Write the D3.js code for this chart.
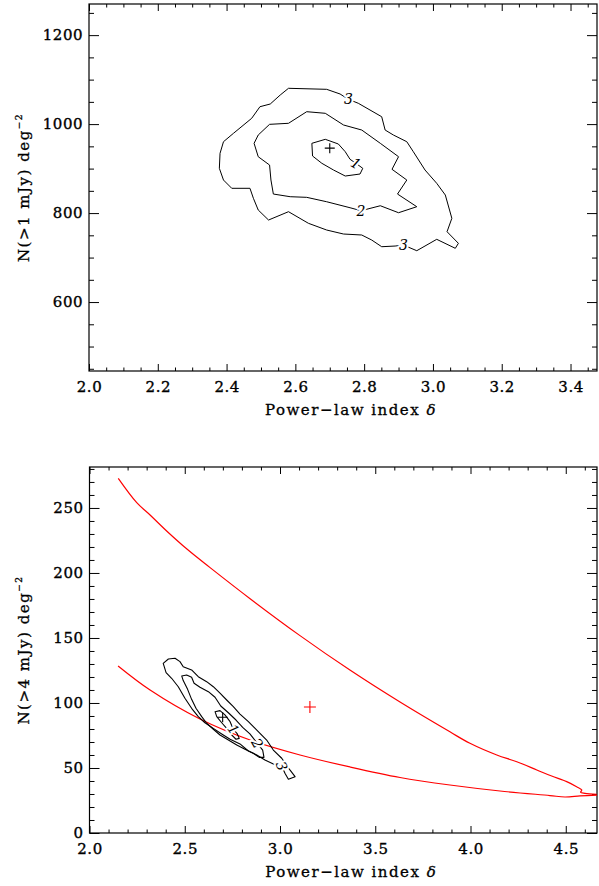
<!DOCTYPE html>
<html>
<head>
<meta charset="utf-8">
<script src="https://cdn.jsdelivr.net/npm/d3@7"></script>
<style>
  body { margin: 0; background: #fff; }
  svg { display: block; }
  .tick text { font-family: "DejaVu Serif", serif; font-size: 15px; fill: #000; stroke: #000; stroke-width: 0.35px; letter-spacing: 0.5px; }
  .axis-title { font-family: "DejaVu Serif", serif; font-size: 15px; fill: #000; stroke: #000; stroke-width: 0.3px; letter-spacing: 1.5px; }
  .clabel { font-family: "DejaVu Serif", serif; font-size: 14px; font-style: italic; paint-order: stroke; stroke: #fff; stroke-width: 4px; stroke-linejoin: round; }
</style>
</head>
<body>
<svg id="chart" width="599" height="886"></svg>
<script>
// ---------- Panel 1: N(>1 mJy) versus power-law index ----------
const topXTicks = [2.0, 2.2, 2.4, 2.6, 2.8, 3.0, 3.2, 3.4];
const topYTicks = [600, 800, 1000, 1200];

// confidence contours, [delta, N] pairs
const topContour1 = [
  [2.648, 956.8], [2.687, 965.8], [2.725, 955.3], [2.745, 937.9], [2.759, 920.9],
  [2.776, 911.9], [2.796, 900.6], [2.788, 887.8], [2.745, 883.3], [2.711, 896.8],
  [2.677, 911.9], [2.650, 928.3]
];
const topContour2 = [
  [2.793, 986.7], [2.847, 956.8], [2.900, 926.7], [2.881, 898.4], [2.924, 874.3],
  [2.897, 842.8], [2.953, 814.3], [2.900, 800.8], [2.847, 816.5], [2.791, 805.3],
  [2.759, 812.0], [2.691, 825.5], [2.633, 835.4], [2.585, 836.8], [2.536, 842.8],
  [2.529, 874.3], [2.525, 908.0], [2.492, 926.7], [2.480, 956.8], [2.492, 975.5],
  [2.525, 999.5], [2.580, 1001.8], [2.633, 1027.9], [2.687, 1024.3], [2.740, 998.0]
];
const topContour3 = [
  [2.754, 1055.8], [2.783, 1046.8], [2.851, 1016.6], [2.861, 986.7], [2.885, 975.5],
  [2.924, 960.4], [2.943, 937.9], [2.977, 896.8], [3.011, 866.9], [3.036, 840.6],
  [3.055, 788.2], [3.041, 758.1], [3.074, 732.0], [3.065, 720.8], [3.011, 741.0],
  [2.953, 715.4], [2.914, 728.2], [2.890, 725.9], [2.851, 724.4], [2.822, 739.4],
  [2.793, 750.7], [2.740, 752.9], [2.691, 761.9], [2.638, 777.0], [2.580, 803.1],
  [2.522, 784.4], [2.492, 806.9], [2.478, 833.2], [2.468, 855.7], [2.415, 855.7],
  [2.391, 874.3], [2.379, 900.6], [2.381, 934.3], [2.391, 960.4], [2.420, 979.3],
  [2.473, 1013.0], [2.497, 1039.1], [2.527, 1045.2], [2.556, 1065.4], [2.580, 1080.5],
  [2.691, 1078.2], [2.730, 1067.7]
];
const topBest = [2.70, 946];
// contour level labels: [delta, N, level]
const topLabels = [
  [2.776, 911.9, "1"], [2.791, 805.3, "2"], [2.754, 1055.8, "3"], [2.914, 728.2, "3"]
];

// ---------- Panel 2: N(>4 mJy) versus power-law index ----------
const botXTicks = [2.0, 2.5, 3.0, 3.5, 4.0, 4.5];
const botYTicks = [0, 50, 100, 150, 200, 250];

const botContour1 = [
  [2.659, 93.3], [2.685, 94.1], [2.711, 90.8], [2.738, 85.6], [2.755, 79.8],
  [2.776, 76.2], [2.786, 72.8], [2.769, 72.1], [2.746, 75.4], [2.720, 80.5],
  [2.694, 84.8], [2.668, 89.5]
];
const botContour2 = [
  [2.484, 120.8], [2.510, 121.5], [2.536, 119.8], [2.549, 115.2], [2.580, 112.1],
  [2.624, 108.7], [2.659, 104.4], [2.689, 97.7], [2.729, 92.5], [2.769, 86.9],
  [2.804, 81.3], [2.842, 76.2], [2.881, 69.0], [2.909, 63.8], [2.916, 58.2],
  [2.891, 58.2], [2.860, 61.3], [2.816, 64.4], [2.773, 67.7], [2.729, 71.5],
  [2.685, 75.4], [2.650, 79.8], [2.615, 84.4], [2.589, 89.5], [2.559, 95.9],
  [2.536, 102.8], [2.515, 110.5], [2.492, 117.2]
];
const botContour3 = [
  [2.387, 130.5], [2.414, 133.8], [2.449, 134.4], [2.475, 131.8], [2.492, 127.9],
  [2.536, 125.4], [2.571, 120.2], [2.615, 116.4], [2.650, 112.5], [2.685, 107.5],
  [2.720, 102.3], [2.755, 97.2], [2.790, 91.5], [2.834, 85.6], [2.860, 81.8],
  [2.895, 76.7], [2.930, 71.5], [2.965, 63.8], [3.009, 57.5], [3.052, 48.5],
  [3.079, 43.3], [3.044, 41.3], [3.026, 45.9], [3.009, 51.5], [2.965, 53.1],
  [2.921, 56.2], [2.878, 60.0], [2.834, 63.1], [2.790, 68.5], [2.738, 72.1],
  [2.694, 76.2], [2.650, 80.5], [2.606, 84.8], [2.571, 89.5], [2.536, 95.9],
  [2.501, 103.6], [2.466, 112.5], [2.431, 119.0], [2.402, 123.3]
];
const botBest = [2.699, 89];
const botLabels = [
  [2.755, 79.8, "1"], [2.881, 69.0, "2"], [3.009, 51.5, "3"]
];

// red model envelope: upper and lower branches
const redUpper = [
  [2.151, 272.8], [2.248, 254.1], [2.318, 244.6], [2.405, 232.3], [2.513, 218.2],
  [2.633, 204.1], [2.843, 180.2], [3.105, 151.8], [3.367, 125.3], [3.630, 100.7],
  [3.892, 77.8], [3.997, 69.0], [4.138, 60.0], [4.243, 54.8], [4.348, 48.5],
  [4.426, 43.8], [4.505, 39.5], [4.557, 35.6], [4.584, 33.1], [4.578, 31.3],
  [4.601, 30.5], [4.662, 29.8]
];
const redLower = [
  [2.150, 128.5], [2.318, 110.0], [2.580, 87.7], [2.843, 71.5], [3.105, 60.0],
  [3.367, 50.8], [3.630, 42.7], [3.892, 36.9], [4.155, 32.3], [4.417, 28.8],
  [4.496, 27.7], [4.575, 28.5], [4.664, 29.2]
];
const redBest = [3.157, 96.9];

// ---------- drawing ----------
const svg = d3.select("#chart");

function range(a, b, step) {
  const out = [];
  for (let v = a; v <= b + step * 1e-6; v += step) out.push(+v.toFixed(4));
  return out;
}

function panel(cfg) {
  const { x, y, xTicks, yTicks, xMinor, yMinor, xFmt, yTitle } = cfg;
  const [x0, x1] = x.range();
  const [y0, y1] = y.range(); // y0 bottom, y1 top
  const g = svg.append("g");
  const xLen = 7, yLen = 10;

  const addAxis = (axis, tr) => {
    const a = g.append("g").attr("transform", tr).call(axis);
    a.select(".domain").remove();
    a.selectAll(".tick line").attr("stroke", "#000").attr("stroke-width", 1);
    return a;
  };
  // bottom
  addAxis(d3.axisBottom(x).tickValues(xTicks).tickSize(-xLen).tickPadding(10).tickFormat(xFmt), `translate(0,${y0})`);
  addAxis(d3.axisBottom(x).tickValues(xMinor).tickSize(-xLen / 2).tickFormat(""), `translate(0,${y0})`);
  // top
  addAxis(d3.axisTop(x).tickValues(xTicks).tickSize(-xLen).tickFormat(""), `translate(0,${y1})`);
  addAxis(d3.axisTop(x).tickValues(xMinor).tickSize(-xLen / 2).tickFormat(""), `translate(0,${y1})`);
  // left
  addAxis(d3.axisLeft(y).tickValues(yTicks).tickSize(-yLen).tickPadding(6).tickFormat(d3.format("d")), `translate(${x0},0)`);
  addAxis(d3.axisLeft(y).tickValues(yMinor).tickSize(-yLen / 2).tickFormat(""), `translate(${x0},0)`);
  // right
  addAxis(d3.axisRight(y).tickValues(yTicks).tickSize(-yLen).tickFormat(""), `translate(${x1},0)`);
  addAxis(d3.axisRight(y).tickValues(yMinor).tickSize(-yLen / 2).tickFormat(""), `translate(${x1},0)`);

  g.selectAll(".tick text").attr("fill", "#000");

  g.append("rect")
    .attr("x", x0).attr("y", y1)
    .attr("width", x1 - x0).attr("height", y0 - y1)
    .attr("fill", "none").attr("stroke", "#000").attr("stroke-width", 1.2);

  // x title
  const xt = g.append("text").attr("class", "axis-title")
    .attr("x", (x0 + x1) / 2 + 8).attr("y", y0 + 44).attr("text-anchor", "middle");
  xt.append("tspan").text("Power\u2212law index ");
  xt.append("tspan").attr("font-style", "italic").text("\u03b4");

  // y title
  const yt = g.append("text").attr("class", "axis-title")
    .attr("transform", `translate(29,${(y0 + y1) / 2}) rotate(-90)`)
    .attr("text-anchor", "middle");
  yt.append("tspan").text(yTitle + " deg");
  yt.append("tspan").attr("font-size", "9px").attr("dy", "-7").text("\u22122");
  return g;
}

function contours(g, x, y, sets, color, width) {
  const line = d3.line().x(d => x(d[0])).y(d => y(d[1])).curve(d3.curveLinearClosed);
  sets.forEach(s => {
    g.append("path").attr("d", line(s)).attr("fill", "none")
      .attr("stroke", color).attr("stroke-width", width).attr("stroke-linejoin", "round");
  });
}

function labels(g, x, y, list, angles) {
  list.forEach((d, i) => {
    g.append("text").attr("class", "clabel")
      .attr("text-anchor", "middle").attr("dominant-baseline", "central")
      .attr("transform", `translate(${x(d[0])},${y(d[1])}) rotate(${angles[i]})`)
      .text(d[2]);
  });
}

function cross(g, x, y, p, half, color) {
  const cx = x(p[0]), cy = y(p[1]);
  g.append("path")
    .attr("d", `M${cx - half},${cy}H${cx + half}M${cx},${cy - half}V${cy + half}`)
    .attr("stroke", color).attr("stroke-width", 1.1).attr("fill", "none");
}

// panel 1
const xTop = d3.scaleLinear().domain([2.0, 3.477]).range([89, 597]);
const yTop = d3.scaleLinear().domain([445, 1270]).range([371, 4]);
const gTop = panel({
  x: xTop, y: yTop, xTicks: topXTicks, yTicks: topYTicks,
  xMinor: range(2.05, 3.45, 0.05).filter(v => Math.round(v * 100) % 20 !== 0),
  yMinor: range(450, 1250, 50).filter(v => v % 200 !== 0),
  xFmt: d3.format(".1f"), yTitle: "N(>1 mJy)"
});
contours(gTop, xTop, yTop, [topContour3, topContour2, topContour1], "#000", 1);
cross(gTop, xTop, yTop, topBest, 5, "#000");
labels(gTop, xTop, yTop, topLabels, [30, 0, 0, 0]);

// panel 2
const xBot = d3.scaleLinear().domain([2.0, 4.664]).range([89.5, 597]);
const yBot = d3.scaleLinear().domain([0, 281.5]).range([833, 467]);
const gBot = panel({
  x: xBot, y: yBot, xTicks: botXTicks, yTicks: botYTicks,
  xMinor: range(2.1, 4.6, 0.1).filter(v => Math.round(v * 10) % 5 !== 0),
  yMinor: range(10, 280, 10).filter(v => v % 50 !== 0),
  xFmt: d3.format(".1f"), yTitle: "N(>4 mJy)"
});
const redLine = d3.line().x(d => xBot(d[0])).y(d => yBot(d[1])).curve(d3.curveCatmullRom.alpha(0.5));
[redUpper, redLower].forEach(s => {
  gBot.append("path").attr("d", redLine(s)).attr("fill", "none")
    .attr("stroke", "#f00").attr("stroke-width", 1.2).attr("stroke-linejoin", "round");
});
cross(gBot, xBot, yBot, redBest, 6, "#f00");
contours(gBot, xBot, yBot, [botContour3, botContour2, botContour1], "#000", 1.1);
cross(gBot, xBot, yBot, botBest, 5, "#000");
labels(gBot, xBot, yBot, botLabels, [55, 60, 70]);
</script>
</body>
</html>
